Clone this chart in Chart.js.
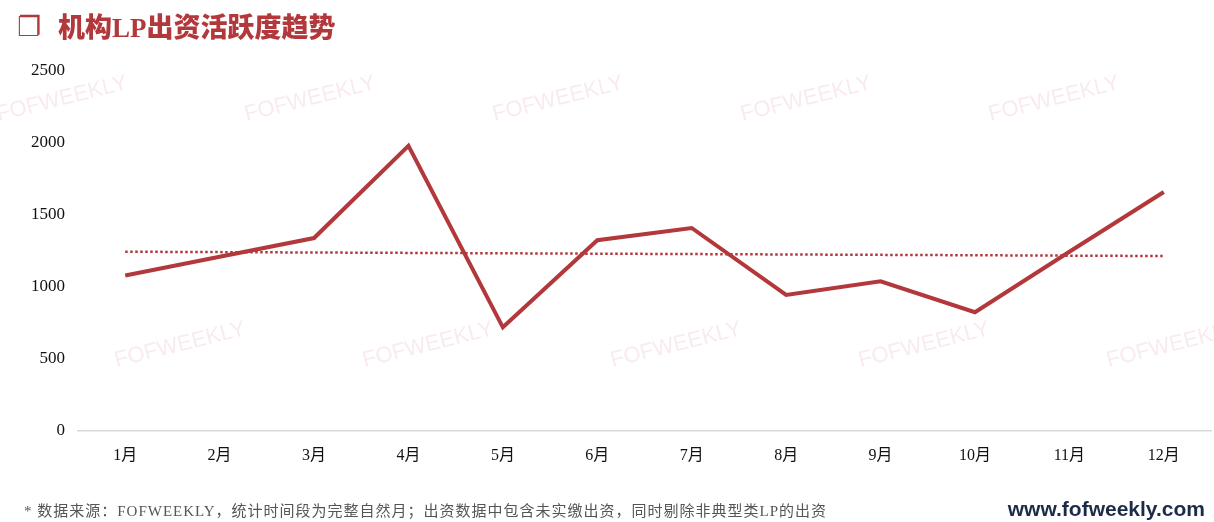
<!DOCTYPE html>
<html>
<head>
<meta charset="utf-8">
<script src="https://cdn.jsdelivr.net/npm/chart.js@4/dist/chart.umd.min.js"></script>
<style>
  html, body { margin: 0; padding: 0; background: #fff; }
  #wrap { position: relative; width: 1214px; height: 522px; overflow: hidden; }
  #chart { position: absolute; left: 0; top: 0; }
  .title { position: absolute; left: 16px; top: 6px; color: #b3383c; white-space: nowrap; }
  .title .icon { font-family: "DejaVu Sans"; font-size: 27px; font-weight: bold; position: absolute; left: 1px; top: 5px; }
  .title .txt { position: absolute; left: 42px; top: 0; font-family: "Liberation Serif", "Noto Sans CJK SC"; font-weight: 900; font-size: 27px; }
  .note { position: absolute; left: 24px; top: 499px; color: #555; font-family: "Liberation Serif", "Noto Sans CJK SC"; font-size: 15px; letter-spacing: 1px; white-space: nowrap; }
  .site { position: absolute; right: 9px; top: 497px; color: #1c2b48; font-family: "Liberation Sans", Arial; font-weight: bold; font-size: 21px; }
</style>
</head>
<body>
<div id="wrap">
  <canvas id="chart" width="1214" height="522"></canvas>
  <div class="title"><span class="icon">❐</span><span class="txt">机构LP出资活跃度趋势</span></div>
  <div class="note">* 数据来源：FOFWEEKLY，统计时间段为完整自然月；出资数据中包含未实缴出资，同时剔除非典型类LP的出资</div>
  <div class="site">www.fofweekly.com</div>
</div>
<script>
const months = ['1月', '2月', '3月', '4月', '5月', '6月', '7月', '8月', '9月', '10月', '11月', '12月'];
const activity = [1080, 1210, 1340, 1980, 720, 1325, 1410, 945, 1040, 825, 1245, 1660];
// trendline read at the two ends, middle left empty
const trend = [1245, null, null, null, null, null, null, null, null, null, null, 1215];
const yTicks = [0, 500, 1000, 1500, 2000, 2500];

const red = '#b3383c';

// FOFWEEKLY watermarks behind everything
const watermark = {
  id: 'watermark',
  beforeDraw(chart) {
    const c = chart.ctx;
    c.save();
    c.font = '22px "Liberation Sans", Arial';
    c.fillStyle = 'rgba(214, 120, 132, 0.15)';
    c.textAlign = 'center';
    c.textBaseline = 'middle';
    for (let i = 0; i < 5; i++) {
      [[62 + i * 248, 99], [180 + i * 248, 345]].forEach(p => {
        c.save();
        c.translate(p[0], p[1]);
        c.rotate(-14 * Math.PI / 180);
        c.fillText('FOFWEEKLY', 0, 0);
        c.restore();
      });
    }
    c.restore();
  }
};

new Chart(document.getElementById('chart'), {
  type: 'line',
  data: {
    labels: months,
    datasets: [{
      data: activity,
      borderColor: red,
      borderWidth: 4,
      pointRadius: 0,
      tension: 0
    }, {
      data: trend,
      borderColor: red,
      borderWidth: 2.5,
      borderDash: [2.5, 2.5],
      pointRadius: 0,
      spanGaps: true
    }]
  },
  options: {
    responsive: false,
    animation: false,
    layout: { padding: { top: 71, right: 3, bottom: 0, left: 0 } },
    plugins: { legend: { display: false }, tooltip: { enabled: false } },
    scales: {
      x: {
        offset: true,
        grid: { display: false, drawTicks: false, offset: true },
        border: { color: '#d9d9d9', width: 1.5 },
        ticks: { color: '#111', padding: 15, font: { family: '"Liberation Serif", "Noto Sans CJK SC"', size: 16 } },
        afterFit(s) { s.height = 91; }
      },
      y: {
        min: 0,
        max: 2500,
        afterBuildTicks(s) { s.ticks = yTicks.map(v => ({ value: v })); },
        grid: { display: false, drawTicks: false },
        border: { display: false },
        ticks: { color: '#111', padding: 13, font: { family: '"Liberation Serif"', size: 17 }, callback: v => String(v) },
        afterFit(s) { s.width = 78; }
      }
    }
  },
  plugins: [watermark]
});
</script>
</body>
</html>
